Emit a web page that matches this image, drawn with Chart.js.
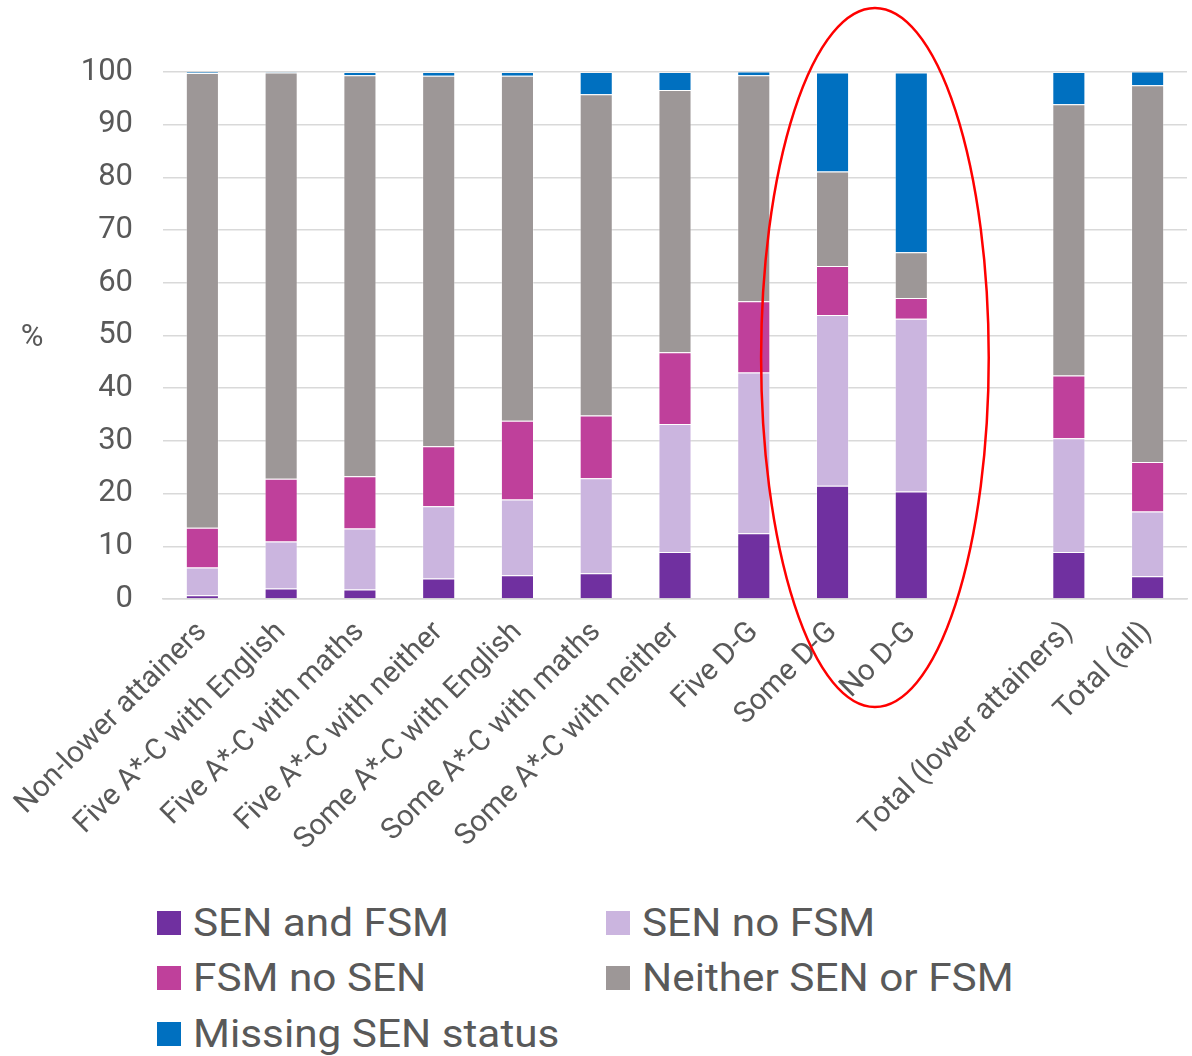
<!DOCTYPE html>
<html>
<head>
<meta charset="utf-8">
<script src="https://cdn.jsdelivr.net/npm/chart.js@4/dist/chart.umd.min.js"></script>
<style>
  html, body { margin: 0; padding: 0; background: #fff; }
  #wrap { position: relative; width: 1192px; height: 1056px; overflow: hidden; }
  #c { position: absolute; left: 0; top: 0; }
  #legend {
    position: absolute; left: 157px; top: 895px;
    display: grid; grid-template-columns: 449px auto;
    font-family: Roboto, sans-serif; font-size: 39px; color: #595959;
  }
  .item { display: flex; align-items: center; height: 55.5px; white-space: nowrap; }
  .sw { width: 24px; height: 24px; margin-right: 12px; flex: none; }
  .tx { display: inline-block; transform: scaleX(1.085); transform-origin: left center; }
</style>
</head>
<body>
<div id="wrap">
  <canvas id="c" width="1192" height="880"></canvas>
  <div id="legend"></div>
</div>
<script>
// Attainment groups (blank slot separates the groups from the totals)
const categories = [
  'Non-lower attainers',
  'Five A*-C with English',
  'Five A*-C with maths',
  'Five A*-C with neither',
  'Some A*-C with English',
  'Some A*-C with maths',
  'Some A*-C with neither',
  'Five D-G',
  'Some D-G',
  'No D-G',
  '',
  'Total (lower attainers)',
  'Total (all)'
];

// Share of pupils (%) in each group
const senAndFsm  = [0.7, 2.0, 1.8, 3.9, 4.5, 4.9, 8.9, 12.5, 21.5, 20.4, null, 8.9, 4.3];
const senNoFsm   = [5.3, 8.9, 11.6, 13.7, 14.4, 18.0, 24.3, 30.5, 32.4, 32.8, null, 21.6, 12.3];
const fsmNoSen   = [7.5, 11.9, 9.9, 11.4, 14.9, 11.9, 13.6, 13.5, 9.3, 3.9, null, 11.9, 9.4];
const neither    = [86.3, 77.1, 76.1, 70.3, 65.5, 61.0, 49.8, 42.9, 17.9, 8.7, null, 51.5, 71.5];
const missingSen = [0.2, 0.1, 0.6, 0.7, 0.7, 4.2, 3.4, 0.7, 18.8, 34.1, null, 6.1, 2.6];

const yTicks = [0, 10, 20, 30, 40, 50, 60, 70, 80, 90, 100];

const seriesNames = ['SEN and FSM', 'SEN no FSM', 'FSM no SEN', 'Neither SEN or FSM', 'Missing SEN status'];
const seriesColors = ['#7030A0', '#CBB5DF', '#BF409B', '#9D9797', '#0070C0'];
const seriesValues = [senAndFsm, senNoFsm, fsmNoSen, neither, missingSen];

const TEXT = '#595959';
const GRID = '#D9D9D9';
const FONT = 'Roboto, sans-serif';

// Horizontal "%" axis label beside the value axis
const unitLabel = {
  id: 'unitLabel',
  afterDraw(chart) {
    const { ctx, chartArea } = chart;
    ctx.save();
    ctx.fillStyle = TEXT;
    ctx.font = '31px ' + FONT;
    ctx.textAlign = 'center';
    ctx.textBaseline = 'middle';
    ctx.fillText('%', 32, (chartArea.top + chartArea.bottom) / 2 + 3);
    ctx.restore();
  }
};

// Red ring highlighting the two lowest groups
const highlightRing = {
  id: 'highlightRing',
  afterDatasetsDraw(chart) {
    const { ctx } = chart;
    const x = chart.scales.x, y = chart.scales.y;
    const a = x.getPixelForValue(8), b = x.getPixelForValue(9);
    const step = b - a;
    const cx = (a + b) / 2 + 3;
    const top = y.getPixelForValue(100) - 64;
    const bottom = y.getPixelForValue(0) + 108;
    ctx.save();
    ctx.strokeStyle = '#FF0000';
    ctx.lineWidth = 2.5;
    ctx.beginPath();
    ctx.ellipse(cx, (top + bottom) / 2, step * 1.445, (bottom - top) / 2, 0, 0, Math.PI * 2);
    ctx.stroke();
    ctx.restore();
  }
};

const chart = new Chart(document.getElementById('c'), {
  type: 'bar',
  data: {
    labels: categories,
    datasets: seriesNames.map((name, i) => ({
      label: name,
      data: seriesValues[i],
      backgroundColor: seriesColors[i],
      borderColor: 'rgba(255,255,255,0.3)',
      borderWidth: 1,
      barPercentage: 1,
      categoryPercentage: 0.42
    }))
  },
  options: {
    responsive: false,
    devicePixelRatio: 1,
    animation: false,
    layout: { padding: { top: 72, right: 5, left: 0, bottom: 0 } },
    plugins: {
      legend: { display: false },
      tooltip: { enabled: false }
    },
    scales: {
      x: {
        stacked: true,
        grid: { display: false, drawTicks: false },
        border: { display: true, color: GRID, width: 1.5 },
        ticks: {
          color: TEXT,
          font: { family: FONT, size: 29.5 },
          minRotation: 45,
          maxRotation: 45,
          autoSkip: false,
          padding: 16
        },
        afterFit(s) {
          s.height = 281;
          s.paddingLeft = 0;
          s.paddingRight = 0;
        }
      },
      y: {
        stacked: true,
        min: 0,
        max: 100,
        afterBuildTicks(s) { s.ticks = yTicks.map(v => ({ value: v })); },
        grid: { color: GRID, lineWidth: 1.5, drawTicks: false },
        border: { display: false },
        ticks: {
          color: TEXT,
          font: { family: FONT, size: 31 },
          padding: 30
        },
        afterFit(s) { s.width = 163; }
      }
    }
  },
  plugins: [unitLabel, highlightRing]
});

// Two-column legend under the chart
const legend = document.getElementById('legend');
chart.data.datasets.forEach(ds => {
  const item = document.createElement('div');
  item.className = 'item';
  const sw = document.createElement('span');
  sw.className = 'sw';
  sw.style.background = ds.backgroundColor;
  const txt = document.createElement('span');
  txt.className = 'tx';
  txt.textContent = ds.label;
  item.appendChild(sw);
  item.appendChild(txt);
  legend.appendChild(item);
});
</script>
</body>
</html>
